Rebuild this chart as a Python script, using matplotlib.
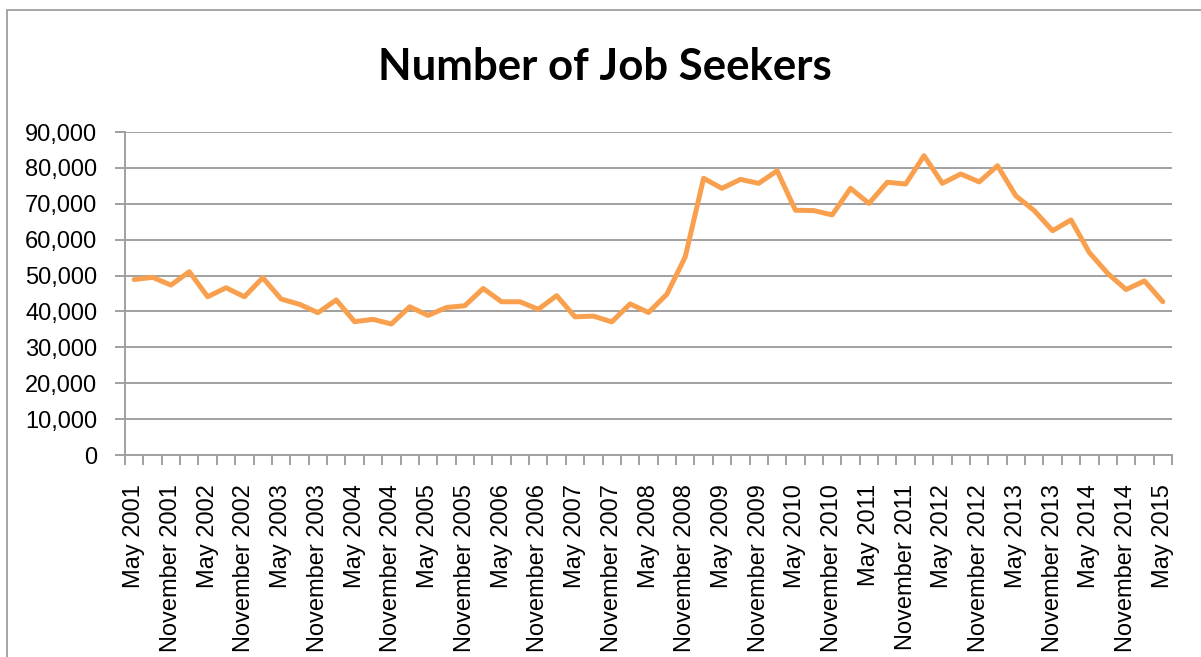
#!/usr/bin/env python3

import matplotlib
matplotlib.use( "Agg" )
from matplotlib import pyplot as plt
from matplotlib import font_manager
from matplotlib.patches import Rectangle
from matplotlib.ticker import FuncFormatter

# quarterly categories, May 2001 -> May 2015
years    = list( range( 2001, 2016 ) )
quarters = [ "May", "August", "November", "February" ]

categories = []
for y in years:
    for q in quarters:
        yr = y + 1 if q == "February" else y
        categories.append( q + " " + str( yr ) )
categories = categories[ :57 ]

job_seekers = [ 48900, 49500, 47350, 51070, 44100, 46600, 44100, 49400, 43450, 42000,
                39650, 43200, 37150, 37800, 36500, 41300, 38900, 41100, 41600, 46400,
                42700, 42700, 40600, 44400, 38500, 38700, 37100, 42100, 39700, 44800,
                55200, 77100, 74300, 76800, 75700, 79200, 68200, 68100, 66900, 74300,
                70100, 76000, 75500, 83400, 75700, 78300, 76100, 80600, 72200, 68100,
                62500, 65500, 56400, 50600, 46100, 48500, 42700 ]

y_ticks = list( range( 0, 90001, 10000 ) )

# fonts
names = { f.name for f in font_manager.fontManager.ttflist }
if "Liberation Sans Narrow" in names:
    tick_font, tick_size = "Liberation Sans Narrow", 20.5
else:
    tick_font, tick_size = "Liberation Sans", 17
title_font = "Lato" if "Lato" in names else "DejaVu Sans"

grey   = "#a0a0a0"
orange = "#f9a04f"

fig = plt.figure( figsize=( 12.01, 6.57 ), dpi=100 )
ax  = fig.add_axes( [ 125/1201, 1 - 455/657, 1047/1201, 323/657 ] )

x = list( range( len( job_seekers ) ) )
ax.plot( x, job_seekers, color=orange, lw=3.6, solid_joinstyle="round", solid_capstyle="round" )

ax.set_xlim( -0.5, len( job_seekers ) - 0.5 )
ax.set_ylim( 0, 90000 )

# y axis
ax.set_yticks( y_ticks )
ax.yaxis.set_major_formatter( FuncFormatter( lambda v, p: "{:,.0f}".format( v ) ) )
ax.yaxis.grid( True, color=grey, lw=1.4 )
ax.set_axisbelow( True )
ax.tick_params( axis="y", direction="out", length=7, width=1.4, color=grey, pad=13 )

# x axis: labels every other category, ticks on category boundaries
ax.set_xticks( x[ ::2 ] )
ax.set_xticklabels( categories[ ::2 ], rotation=90, va="top", ha="center" )
ax.set_xticks( [ i - 0.5 for i in range( len( job_seekers ) + 1 ) ], minor=True )
ax.tick_params( axis="x", which="major", length=0, pad=21 )
ax.tick_params( axis="x", which="minor", direction="out", length=7, width=1.4, color=grey )

for lbl in ax.get_xticklabels() + ax.get_yticklabels():
    lbl.set_fontfamily( tick_font )
    lbl.set_fontsize( tick_size )

for side in [ "top", "right" ]:
    ax.spines[ side ].set_visible( False )
for side in [ "left", "bottom" ]:
    ax.spines[ side ].set_color( grey )
    ax.spines[ side ].set_linewidth( 1.4 )

fig.text( 605/1201, 1 - 80/657, "Number of Job Seekers", ha="center", va="baseline",
          fontsize=31.5, fontweight="bold", family=title_font )

# chart border
fig.patches.append( Rectangle( ( 7/1201, -0.1 ), 1.2, 1 - 10/657 + 0.1, transform=fig.transFigure,
                               fill=False, edgecolor="#a6a6a6", lw=1.4 ) )

fig.savefig( "out.png", dpi=100 )
